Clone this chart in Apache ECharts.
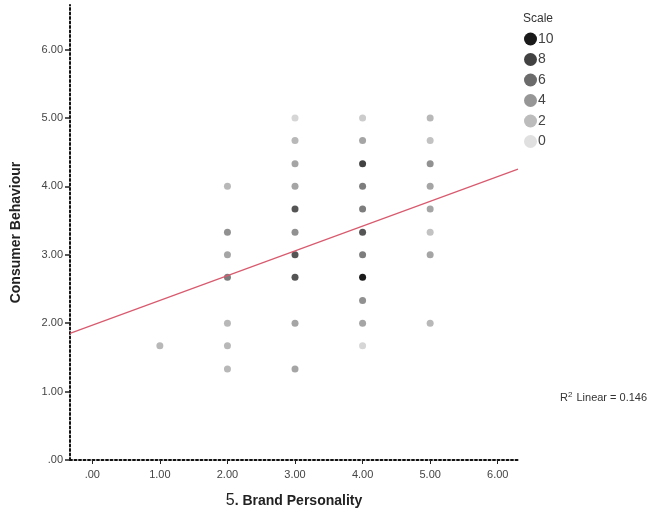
<!DOCTYPE html>
<html>
<head>
<meta charset="utf-8">
<script src="https://cdn.jsdelivr.net/npm/echarts@6/dist/echarts.min.js"></script>
<style>
  html, body { margin: 0; padding: 0; background: #fff; }
  #main { width: 668px; height: 514px; }
</style>
</head>
<body>
<div id="main"></div>
<script>
// x = 5. Brand Personality, y = Consumer Behaviour, scale = how many cases share the point
var brandPersonality = [1,
    2, 2, 2, 2, 2, 2, 2,
    3, 3, 3, 3, 3, 3, 3, 3, 3, 3,
    4, 4, 4, 4, 4, 4, 4, 4, 4, 4, 4,
    5, 5, 5, 5, 5, 5, 5, 5]
var consumerBehaviour = [1.67,
    4.00, 3.33, 3.00, 2.67, 2.00, 1.67, 1.33,
    5.00, 4.67, 4.33, 4.00, 3.67, 3.33, 3.00, 2.67, 2.00, 1.33,
    5.00, 4.67, 4.33, 4.00, 3.67, 3.33, 3.00, 2.67, 2.33, 2.00, 1.67,
    5.00, 4.67, 4.33, 4.00, 3.67, 3.33, 3.00, 2.00]
var scale = [2,
    2, 4, 3, 5, 2, 2, 2,
    0.5, 2, 3, 3, 7, 4, 7, 7, 3, 3,
    1, 3, 8, 5, 5, 7, 5, 10, 4, 3, 0.5,
    2, 1.5, 4, 3, 3, 1.5, 3, 2]

var legendLevels = ['10', '8', '6', '4', '2', '0']
var legendColors = ['#1a1a1a', '#424242', '#6b6b6b', '#969696', '#bcbcbc', '#e0e0e0']

var tickValues = [0, 1, 2, 3, 4, 5, 6]
var xMin = -0.33, xMax = 6.3
var yMin = 0, yMax = 6.65

// fit line, R2 Linear = 0.146
var fitIntercept = 1.97
var fitSlope = 0.362

var points = []
for (var i = 0; i < brandPersonality.length; i++) {
    points.push([brandPersonality[i], consumerBehaviour[i], scale[i]])
}
var fitLine = [
    [xMin, fitIntercept + fitSlope * xMin],
    [xMax, fitIntercept + fitSlope * xMax]
]

function fmt(v) {
    if (v == 0) return '.00'
    return v.toFixed(2)
}

var series = [
    {
        name: 'points',
        type: 'scatter',
        symbolSize: 7,
        itemStyle: { opacity: 1 },
        data: points,
        z: 3
    },
    {
        name: 'fit',
        type: 'line',
        data: fitLine,
        showSymbol: false,
        symbol: 'none',
        lineStyle: { color: '#d95a6e', width: 1.2 },
        silent: true,
        z: 4
    }
]
for (var k = 0; k < legendLevels.length; k++) {
    series.push({
        name: legendLevels[k],
        type: 'scatter',
        data: [],
        itemStyle: { color: legendColors[k], opacity: 1 }
    })
}

var myChart = echarts.init(document.getElementById('main'))
var option = {
    animation: false,
    backgroundColor: '#fff',
    textStyle: { fontFamily: 'Liberation Sans, Arial, sans-serif' },
    grid: { left: 70, top: 5, right: 150, bottom: 52, containLabel: false },
    title: [
        {
            text: 'Scale',
            left: 518,
            top: 8,
            textStyle: { fontSize: 12, fontWeight: 'normal', color: '#333' }
        },
        {
            text: 'R{sup|2} Linear = 0.146',
            left: 555,
            top: 386,
            textStyle: {
                fontSize: 11, fontWeight: 'normal', color: '#333',
                rich: { sup: { fontSize: 8, verticalAlign: 'top', padding: [0, 1, 6, 0], color: '#333' } }
            }
        }
    ],
    legend: {
        data: legendLevels,
        orient: 'vertical',
        left: 519,
        top: 27,
        icon: 'circle',
        itemWidth: 13,
        itemHeight: 13,
        itemGap: 6.5,
        textStyle: { fontSize: 14, color: '#444', padding: [0, 0, 0, -4] }
    },
    visualMap: {
        show: false,
        type: 'continuous',
        seriesIndex: 0,
        dimension: 2,
        min: 0,
        max: 10,
        inRange: { color: ['#e0e0e0', '#1a1a1a'] }
    },
    xAxis: {
        type: 'value',
        min: xMin,
        max: xMax,
        name: '5{b|. Brand Personality}',
        nameLocation: 'middle',
        nameGap: 33,
        nameTextStyle: {
            fontSize: 16, color: '#222',
            rich: { b: { fontSize: 14, fontWeight: 'bold', color: '#222' } }
        },
        axisLine: { show: true, onZero: false, lineStyle: { color: '#111', type: [2, 2.5], width: 2 } },
        axisTick: { show: true, customValues: tickValues, length: 4, inside: false, lineStyle: { color: '#222' } },
        axisLabel: { customValues: tickValues, formatter: fmt, fontSize: 11, color: '#444', margin: 9 },
        splitLine: { show: false }
    },
    yAxis: {
        type: 'value',
        min: yMin,
        max: yMax,
        name: 'Consumer Behaviour',
        nameLocation: 'middle',
        nameGap: 47,
        nameTextStyle: { fontSize: 14, fontWeight: 'bold', color: '#222' },
        axisLine: { show: true, onZero: false, lineStyle: { color: '#111', type: [2, 2.5], width: 2 } },
        axisTick: { show: true, customValues: tickValues, length: 5, lineStyle: { color: '#222', width: 1.5 } },
        axisLabel: { customValues: tickValues, formatter: fmt, fontSize: 11, color: '#444', margin: 7 },
        splitLine: { show: false }
    },
    series: series
}
myChart.setOption(option)
</script>
</body>
</html>
